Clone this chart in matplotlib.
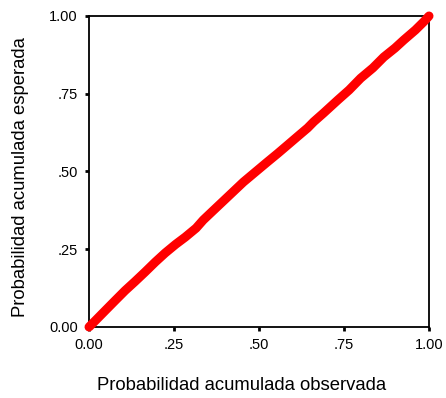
import matplotlib.pyplot as plt

plt.rcParams['font.family'] = ['Liberation Sans', 'DejaVu Sans']

# Observed vs expected cumulative probability (P-P plot)
observed = [0.000, 0.020, 0.047, 0.075, 0.106, 0.135, 0.165, 0.195, 0.224,
            0.255, 0.283, 0.315, 0.336, 0.363, 0.395, 0.425, 0.454, 0.490,
            0.525, 0.555, 0.584, 0.615, 0.643, 0.661, 0.690, 0.732, 0.765,
            0.799, 0.835, 0.867, 0.900, 0.926, 0.960, 0.985, 1.000]
expected = [0.000, 0.022, 0.052, 0.083, 0.117, 0.146, 0.177, 0.209, 0.238,
            0.266, 0.289, 0.318, 0.344, 0.372, 0.405, 0.436, 0.466, 0.499,
            0.531, 0.558, 0.585, 0.614, 0.640, 0.660, 0.688, 0.730, 0.762,
            0.800, 0.833, 0.868, 0.897, 0.923, 0.955, 0.982, 1.000]

ticks = [0.0, 0.25, 0.5, 0.75, 1.0]
tick_labels = ["0.00", ".25", ".50", ".75", "1.00"]

fig = plt.figure(figsize=(4.46, 3.98), dpi=100)
ax = fig.add_axes([0.1996, 0.1784, 0.7623, 0.7814])

ax.plot(observed, expected, color="#ff0000", linewidth=6.5,
        solid_capstyle="round", solid_joinstyle="round", clip_on=False, zorder=3)

ax.set_xlim(0, 1)
ax.set_ylim(0, 1)
ax.set_xticks(ticks)
ax.set_yticks(ticks)
ax.set_xticklabels(tick_labels)
ax.set_yticklabels(tick_labels)
ax.tick_params(direction="out", length=3, width=2, labelsize=10.5, colors="black")
ax.tick_params(axis="x", pad=5)
ax.tick_params(axis="y", pad=5)

for side in ["left", "bottom", "top", "right"]:
    ax.spines[side].set_linewidth(1.3)
    ax.spines[side].set_color("black")

fig.text(242 / 446, 1 - 385 / 398, "Probabilidad acumulada observada",
         fontsize=13.3, ha="center", va="center")
fig.text(21 / 446, 1 - 177 / 398, "Probabilidad acumulada esperada",
         fontsize=13.3, ha="center", va="center", rotation=90)

fig.savefig("out.png", dpi=100)
